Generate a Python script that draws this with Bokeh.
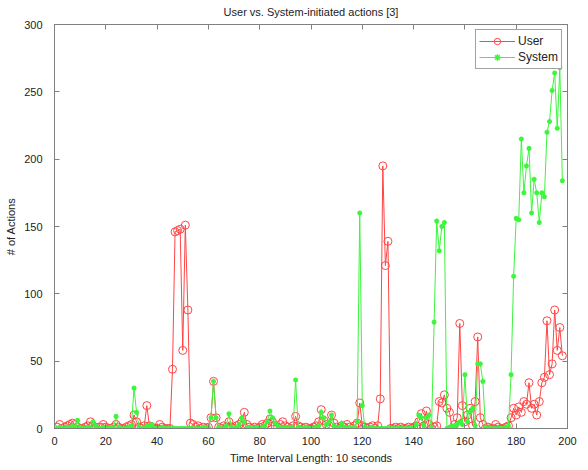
from bokeh.plotting import figure
from bokeh.models import Range1d, LinearAxis, SingleIntervalTicker, Legend, LegendItem
from bokeh.embed import file_html
from bokeh.resources import INLINE

title_text = "User vs. System-initiated actions [3]"
x_label = "Time Interval Length: 10 seconds"
y_label = "# of Actions"

intervals = list(range(1, 199))

user_actions = [
    1, 3, 0, 1, 2, 3, 4, 3, 1, 0,
    0, 1, 2, 5, 2, 0, 1, 1, 3, 1,
    0, 0, 1, 3, 1, 0, 0, 1, 2, 3,
    10, 5, 1, 0, 2, 17, 2, 1, 0, 0,
    3, 1, 0, 0, 0, 44, 146, 147, 148, 58,
    151, 88, 4, 3, 1, 2, 0, 1, 0, 1,
    8, 35, 8, 1, 0, 2, 1, 5, 1, 0,
    2, 3, 5, 12, 3, 1, 0, 1, 0, 1,
    3, 2, 4, 7, 5, 2, 1, 3, 5, 2,
    1, 0, 2, 9, 2, 1, 0, 1, 0, 0,
    1, 2, 5, 14, 6, 3, 2, 10, 4, 1,
    0, 2, 1, 3, 1, 0, 2, 4, 19, 2,
    1, 0, 1, 2, 0, 2, 22, 195, 121, 139,
    0, 0, 1, 0, 1, 0, 0, 1, 0, 1,
    2, 5, 11, 2, 13, 3, 0, 1, 2, 20,
    19, 25, 15, 12, 0, 3, 8, 78, 17, 5,
    10, 15, 2, 20, 68, 8, 3, 0, 1, 0,
    0, 3, 1, 0, 0, 1, 2, 8, 15, 10,
    16, 12, 20, 18, 34, 15, 18, 10, 20, 34,
    38, 80, 40, 48, 88, 58, 75, 54,
]

system_actions = [
    0, 1, 0, 0, 1, 0, 2, 1, 6, 1,
    0, 0, 1, 1, 5, 2, 0, 0, 1, 0,
    0, 1, 0, 9, 1, 0, 0, 0, 1, 2,
    30, 12, 1, 0, 0, 2, 1, 3, 0, 0,
    0, 1, 0, 0, 0, 0, 0, 0, 0, 0,
    0, 0, 0, 0, 0, 0, 0, 1, 0, 1,
    8, 35, 8, 1, 0, 0, 2, 11, 1, 0,
    1, 3, 8, 5, 0, 1, 0, 0, 1, 0,
    1, 2, 5, 13, 8, 4, 2, 1, 0, 1,
    0, 1, 0, 36, 1, 0, 0, 1, 0, 0,
    0, 1, 2, 12, 8, 3, 5, 10, 2, 0,
    1, 4, 1, 0, 1, 0, 1, 5, 160, 17,
    1, 0, 0, 1, 0, 0, 0, 0, 0, 0,
    0, 0, 0, 0, 0, 0, 0, 0, 0, 1,
    3, 10, 8, 2, 8, 10, 1, 79, 154, 132,
    150, 153, 0, 1, 2, 2, 3, 5, 3, 40,
    5, 12, 15, 2, 48, 48, 35, 1, 0, 0,
    0, 0, 0, 0, 0, 1, 2, 40, 113, 156,
    155, 215, 175, 195, 208, 160, 185, 175, 153, 175,
    172, 220, 228, 251, 264, 223, 268, 184,
]

FONT = "Liberation Sans"
RED = "#ff4545"
GREEN = "#3cf53c"
AXIS_GRAY = "#808080"
TEXT = "#222222"

p = figure(width=580, height=466, output_backend="svg", toolbar_location=None,
           x_range=Range1d(0, 200), y_range=Range1d(0, 300),
           min_border_left=54, min_border_right=13, min_border_top=24,
           min_border_bottom=36, title=title_text)

p.title.text_font = FONT
p.title.text_font_size = "11px"
p.title.text_font_style = "normal"
p.title.align = "center"
p.title.standoff = 5
p.title.text_color = TEXT

p.xgrid.visible = False
p.ygrid.visible = False
p.outline_line_color = AXIS_GRAY
p.background_fill_color = "white"
p.border_fill_color = "white"

p.xaxis.ticker = SingleIntervalTicker(interval=20)
p.yaxis.ticker = SingleIntervalTicker(interval=50)

for ax in (p.xaxis[0], p.yaxis[0]):
    ax.major_tick_in = 5
    ax.major_tick_out = 0
    ax.minor_tick_line_color = None
    ax.axis_line_color = AXIS_GRAY
    ax.major_tick_line_color = AXIS_GRAY
    ax.major_label_text_font = FONT
    ax.major_label_text_font_size = "11px"
    ax.major_label_text_color = TEXT
    ax.axis_label_text_font = FONT
    ax.axis_label_text_font_size = "11px"
    ax.axis_label_text_font_style = "normal"
    ax.axis_label_text_color = TEXT

p.xaxis.axis_label = x_label
p.yaxis.axis_label = y_label
p.xaxis.major_label_standoff = 4
p.xaxis.axis_label_standoff = 4
p.yaxis.major_label_standoff = 8
p.yaxis.axis_label_standoff = 4

top_axis = LinearAxis(ticker=SingleIntervalTicker(interval=20))
right_axis = LinearAxis(ticker=SingleIntervalTicker(interval=50))
for ax in (top_axis, right_axis):
    ax.major_tick_in = 5
    ax.major_tick_out = 0
    ax.minor_tick_line_color = None
    ax.axis_line_color = AXIS_GRAY
    ax.major_tick_line_color = AXIS_GRAY
    ax.major_label_text_color = None
    ax.major_label_standoff = 0
p.add_layout(top_axis, "above")
p.add_layout(right_axis, "right")

u_line = p.line(intervals, user_actions, line_color=RED, line_width=1)
u_pts = p.scatter(intervals, user_actions, marker="circle", size=8,
                  fill_color=None, line_color=RED, line_width=1)
s_line = p.line(intervals, system_actions, line_color=GREEN, line_width=1)
s_pts = p.scatter(intervals, system_actions, marker="asterisk", size=5,
                  line_color=GREEN, line_width=1.5)

legend = Legend(items=[
    LegendItem(label="User", renderers=[u_line, u_pts]),
    LegendItem(label="System", renderers=[s_line, s_pts]),
], location="top_right")
legend.label_text_font = FONT
legend.label_text_font_size = "12px"
legend.label_text_color = TEXT
legend.glyph_width = 36
legend.glyph_height = 16
legend.label_height = 16
legend.label_standoff = 3
legend.spacing = 0
legend.padding = 3
legend.margin = 5
legend.border_line_color = "#444444"
legend.background_fill_alpha = 1
p.add_layout(legend)

open("out.html", "w").write(file_html(p, INLINE))
